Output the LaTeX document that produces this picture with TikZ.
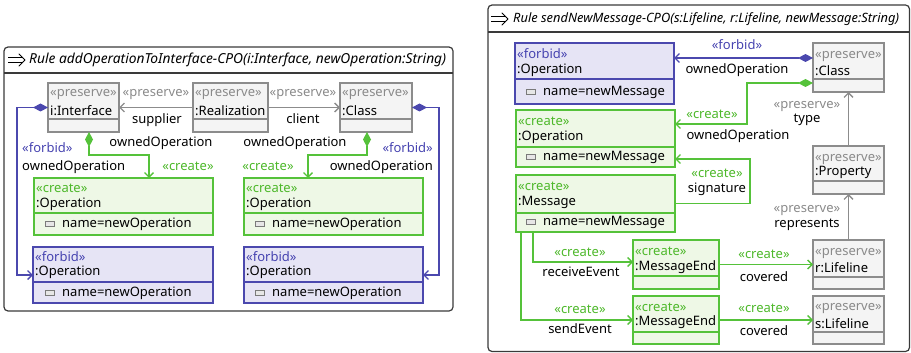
\documentclass[tikz,border=0pt]{standalone}
\usepackage{fontspec}
\usepackage{graphicx}
\setmainfont{Noto Sans}
\usetikzlibrary{arrows.meta}
\definecolor{pfill}{HTML}{F4F4F4}
\definecolor{pdraw}{HTML}{8C8C8C}
\definecolor{ptext}{HTML}{8A8A8A}
\definecolor{cfill}{HTML}{EEF8E6}
\definecolor{cdraw}{HTML}{55C23A}
\definecolor{ctext}{HTML}{4DB82A}
\definecolor{ffill}{HTML}{E6E4F5}
\definecolor{fdraw}{HTML}{4B48AE}
\definecolor{ftext}{HTML}{4643B0}
\definecolor{framecol}{HTML}{3A3A3A}
\definecolor{iconfill}{HTML}{E6E6E6}
\definecolor{icondraw}{HTML}{7A7A7A}
\newcounter{tn}
\tikzset{
  x=1pt,y=-1pt,
  pbox/.style={draw=pdraw, fill=pfill, line width=1.5pt, inner sep=0pt, outer sep=0pt},
  cbox/.style={draw=cdraw, fill=cfill, line width=1.5pt, inner sep=0pt, outer sep=0pt},
  fbox/.style={draw=fdraw, fill=ffill, line width=1.5pt, inner sep=0pt, outer sep=0pt},
  pline/.style={draw=pdraw, line width=1.2pt},
  cline/.style={draw=cdraw, line width=1.2pt},
  fline/.style={draw=fdraw, line width=1.2pt},
  lbl/.style={font=\fontsize{13}{15}\selectfont, inner sep=0pt, text height=9.5pt, text depth=2.5pt},
  pst/.style={lbl, text=ptext},
  cst/.style={lbl, text=ctext},
  fst/.style={lbl, text=ftext},
  attricon/.style={draw=icondraw, fill=iconfill, line width=0.8pt, minimum width=9pt, minimum height=5pt, inner sep=0pt, anchor=west},
  openhead/.tip={Straight Barb[length=4.5pt,width=9pt]},
  dia/.tip={Diamond[length=15pt,width=8pt]},
  pconn/.style={draw=pdraw, line width=1.3pt, -openhead},
  cconn/.style={draw=cdraw, line width=1.3pt, -openhead},
  fconn/.style={draw=fdraw, line width=1.3pt, -openhead},
  cdconn/.style={draw=cdraw, line width=1.3pt, {dia}-openhead},
  fdconn/.style={draw=fdraw, line width=1.3pt, {dia}-openhead},
  rframe/.style={draw=framecol, line width=1.2pt, rounded corners=4pt},
  ruletitle/.style={font=\fontsize{13.5}{16}\selectfont\itshape, inner sep=0pt, anchor=west},
  titlearrow/.style={draw=black, line width=1pt},
}
% name kind x1 y1 x2 y2 sep
\newcommand\ubox[7]{%
  \node[#2box, anchor=north west, minimum width={(#5-#3)*1pt}, minimum height={(#6-#4)*1pt}] (#1) at (#3,#4) {};
  \draw[#2line] (#3,#7) -- (#5,#7);
}
% x y style text
\newcommand\utext[4]{\stepcounter{tn}\node[#3, anchor=west] (t\arabic{tn}) at (#1,#2) {#4};}
\newcommand\ctext[4]{\stepcounter{tn}\node[#3] (t\arabic{tn}) at (#1,#2) {#4};}
\newcommand\rtext[4]{\stepcounter{tn}\node[#3, anchor=east] (t\arabic{tn}) at (#1,#2) {#4};}
% icon x y, attribute text
\newcommand\uattr[3]{\stepcounter{tn}\node[attricon] (i\arabic{tn}) at (#1,#2) {};\utext{#1+17}{#2}{lbl}{#3}}
\begin{document}
\begin{tikzpicture}
\useasboundingbox (0,0) rectangle (911,353);

% ================= LEFT PANEL =================
\draw[rframe] (4,47) rectangle (453,311);
\draw[draw=framecol, line width=1.2pt] (4,73) -- (453,73);
\draw[titlearrow] (8,57.5) -- (23,57.5) (8,62.5) -- (23,62.5);
\draw[titlearrow, line cap=round, line join=round] (19,54) -- (25,60) -- (19,66);
\node[ruletitle] (title1) at (29,60) {\resizebox{417pt}{!}{\strut Rule addOperationToInterface-CPO(i:Interface, newOperation:String)}};

\ubox{iface}{p}{48}{83}{119}{132}{119}
\utext{50}{93}{pst}{«preserve»}
\utext{50}{112}{lbl}{i:Interface}
\ubox{real}{p}{193}{83}{268}{132}{119}
\utext{195}{93}{pst}{«preserve»}
\utext{195}{112}{lbl}{:Realization}
\ubox{cls}{p}{340}{83}{412}{132}{119}
\utext{342}{93}{pst}{«preserve»}
\utext{342}{112}{lbl}{:Class}

\ubox{cOpL}{c}{34}{178}{213}{235}{213}
\utext{36}{189}{cst}{«create»}
\utext{36}{204}{lbl}{:Operation}
\uattr{45}{224}{name=newOperation}
\ubox{fOpL}{f}{33}{247}{213}{303}{282}
\utext{35}{258}{fst}{«forbid»}
\utext{35}{272}{lbl}{:Operation}
\uattr{45}{293}{name=newOperation}

\ubox{cOpR}{c}{244}{178}{423}{235}{213}
\utext{246}{189}{cst}{«create»}
\utext{246}{204}{lbl}{:Operation}
\uattr{255}{224}{name=newOperation}
\ubox{fOpR}{f}{244}{247}{423}{303}{282}
\utext{246}{258}{fst}{«forbid»}
\utext{246}{272}{lbl}{:Operation}
\uattr{255}{293}{name=newOperation}

% connectors left
\draw[pconn] (real.west) -- (iface.east);
\ctext{156}{93}{pst}{«preserve»}
\ctext{157}{120}{lbl}{supplier}
\draw[pconn] (real.east) -- (cls.west);
\ctext{303}{93}{pst}{«preserve»}
\ctext{303}{120}{lbl}{client}

\draw[cdconn] ([xshift=5.5pt]iface.south) |- (149,155) -- (cOpL.north -| 149,0);
\ctext{161}{143}{lbl}{ownedOperation}
\ctext{188}{167}{cst}{«create»}
\draw[cdconn] ([xshift=-9pt]cls.south) |- (308,155) -- (cOpR.north -| 308,0);
\ctext{295}{143}{lbl}{ownedOperation}
\ctext{268}{167}{cst}{«create»}

\draw[fdconn] (iface.west) -- (17,107.5) |- (fOpL.west);
\utext{22}{149}{fst}{«forbid»}
\utext{22}{167}{lbl}{ownedOperation}
\draw[fdconn] (cls.east) -- (439,107.5) |- (fOpR.east);
\rtext{433}{149}{fst}{«forbid»}
\rtext{433}{167}{lbl}{ownedOperation}

% ================= RIGHT PANEL =================
\draw[rframe] (488,5) rectangle (909.5,351.5);
\draw[draw=framecol, line width=1.2pt] (488,32) -- (909.5,32);
\draw[titlearrow] (491,16.5) -- (506,16.5) (491,21.5) -- (506,21.5);
\draw[titlearrow, line cap=round, line join=round] (502,13) -- (508,19) -- (502,25);
\node[ruletitle] (title2) at (513,19) {\resizebox{386pt}{!}{\strut Rule sendNewMessage-CPO(s:Lifeline, r:Lifeline, newMessage:String)}};

\ubox{fop}{f}{515}{43}{674}{104}{79}
\utext{517}{55}{fst}{«forbid»}
\utext{517}{70}{lbl}{:Operation}
\uattr{526}{92}{name=newMessage}
\ubox{rcls}{p}{813}{43}{884}{92}{79}
\utext{815}{55}{pst}{«preserve»}
\utext{815}{72}{lbl}{:Class}
\ubox{cop}{c}{516}{110}{675}{167}{147}
\utext{518}{122}{cst}{«create»}
\utext{518}{137}{lbl}{:Operation}
\uattr{526}{157}{name=newMessage}
\ubox{msg}{c}{516}{175}{675}{232}{213}
\utext{518}{187}{cst}{«create»}
\utext{518}{202}{lbl}{:Message}
\uattr{526}{222}{name=newMessage}
\ubox{prop}{p}{813}{146}{884}{194}{181}
\utext{815}{158}{pst}{«preserve»}
\utext{815}{172}{lbl}{:Property}
\ubox{me1}{c}{633}{240}{719}{289}{276}
\utext{635}{252}{cst}{«create»}
\utext{635}{267}{lbl}{:MessageEnd}
\ubox{me2}{c}{633}{296}{719}{344}{332}
\utext{635}{308}{cst}{«create»}
\utext{635}{322}{lbl}{:MessageEnd}
\ubox{rl}{p}{813}{240}{884}{289}{277}
\utext{815}{252}{pst}{«preserve»}
\utext{815}{269}{lbl}{r:Lifeline}
\ubox{sl}{p}{813}{296}{884}{344}{332}
\utext{815}{307}{pst}{«preserve»}
\utext{815}{325}{lbl}{s:Lifeline}

% connectors right
\draw[fdconn] (rcls.west |- 0,58) -- (fop.east |- 0,58);
\ctext{737}{46}{fst}{«forbid»}
\ctext{737}{70}{lbl}{ownedOperation}
\draw[cdconn] (rcls.west |- 0,83) -| (747,124) -- (cop.east |- 0,124);
\ctext{712}{115}{cst}{«create»}
\ctext{738}{136}{lbl}{ownedOperation}
\draw[pconn] (prop.north) -- (rcls.south);
\ctext{807}{105}{pst}{«preserve»}
\ctext{807}{119}{lbl}{type}
\draw[cconn] (msg.east) -| (750,159) -- (cop.east |- 0,159);
\ctext{717}{174}{cst}{«create»}
\ctext{717}{189}{lbl}{signature}
\draw[pconn] (rl.north) -- (prop.south);
\ctext{807}{209}{pst}{«preserve»}
\ctext{807}{224}{lbl}{represents}
\draw[cconn] (msg.south -| 533,0) |- (me1.west |- 0,262);
\ctext{580}{253}{cst}{«create»}
\ctext{581}{273}{lbl}{receiveEvent}
\draw[cconn] (msg.south -| 521,0) |- (me2.west);
\ctext{580}{310}{cst}{«create»}
\ctext{580}{330}{lbl}{sendEvent}
\draw[cconn] (me1.east) -- (rl.west);
\ctext{764}{255}{cst}{«create»}
\ctext{764}{278}{lbl}{covered}
\draw[cconn] (me2.east) -- (sl.west);
\ctext{764}{309}{cst}{«create»}
\ctext{764}{332}{lbl}{covered}
\end{tikzpicture}
\end{document}
